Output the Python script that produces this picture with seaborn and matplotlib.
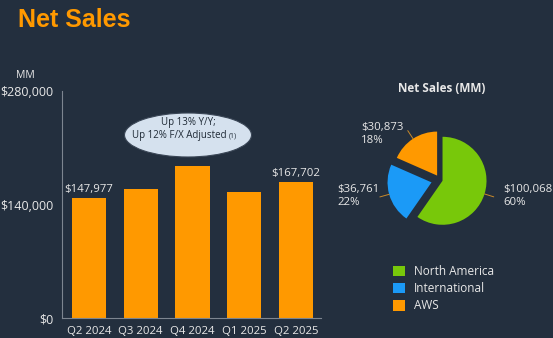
import matplotlib
matplotlib.use('Agg')
import matplotlib.pyplot as plt
import seaborn as sns
import numpy as np
import pandas as pd
from matplotlib.patches import Ellipse
from matplotlib.ticker import FuncFormatter

# ---- data ----
quarters = ['Q2 2024', 'Q3 2024', 'Q4 2024', 'Q1 2025', 'Q2 2025']
net_sales = [147977, 158877, 187792, 155667, 167702]
bar_labels = {0: '$147,977', 4: '$167,702'}
yticks = [0, 140000, 280000]
segments = ['North America', 'International', 'AWS']
segment_sales = [100068, 36761, 30873]
segment_labels = ['$100,068\n60%', '$36,761\n22%', '$30,873\n18%']
callout_line1 = 'Up 13% Y/Y;'
callout_line2 = 'Up 12% F/X Adjusted'
callout_note = '(1)'

# ---- style ----
BG = '#232F3E'
ORANGE = '#FF9900'
GREEN = '#78C80A'
BLUE = '#1B9AF7'
TXT = '#E8E8E8'
AXC = '#7D8590'
seg_colors = [GREEN, BLUE, ORANGE]

sns.set_theme(style='dark')
plt.rcParams['font.family'] = ['Open Sans', 'DejaVu Sans']

W, H = 553, 338
fig = plt.figure(figsize=(W / 100, H / 100), dpi=100, facecolor=BG)


def fx(x):
    return x / W


def fy(y):
    return 1 - y / H


# ---- bar chart ----
ax = fig.add_axes([62 / W, (H - 318) / H, 259 / W, 227 / H])
ax.set_facecolor(BG)
df = pd.DataFrame({'quarter': quarters, 'sales': net_sales})
sns.barplot(data=df, x='quarter', y='sales', color=ORANGE, saturation=1,
            width=0.66, linewidth=0, ax=ax)
ax.set_xlim(-0.52, 4.48)
ax.set_ylim(0, 280000)
ax.set_yticks(yticks)
ax.yaxis.set_major_formatter(FuncFormatter(lambda v, p: f'${v:,.0f}'))
ax.set_xlabel('')
ax.set_ylabel('')
ax.grid(False)
for s in ['top', 'right']:
    ax.spines[s].set_visible(False)
for s in ['left', 'bottom']:
    ax.spines[s].set_color(AXC)
    ax.spines[s].set_linewidth(0.8)
ax.tick_params(axis='both', colors=AXC, labelcolor=TXT, length=3, width=0.8)
ax.tick_params(axis='y', pad=3, labelsize=9)
ax.tick_params(axis='x', pad=2.5, labelsize=8.2)
for i, txt in bar_labels.items():
    ax.annotate(txt, (i, net_sales[i]), xytext=(0, 2), textcoords='offset points',
                ha='center', va='bottom', color=TXT, fontsize=8.2)

fig.text(fx(25), fy(75), 'MM', ha='center', va='center', color=TXT, fontsize=7.5)

# ---- callout ----
fig.add_artist(Ellipse((fx(188), fy(135)), 127 / W, 44 / H, transform=fig.transFigure,
                       facecolor='#D5E1EE', edgecolor='#3A4656', lw=0.8))
fig.text(fx(188), fy(122.5), callout_line1, ha='center', va='center',
         color='#1F2A36', fontsize=7)
fig.text(fx(227), fy(135.5), callout_line2, ha='right', va='center',
         color='#1F2A36', fontsize=7)
fig.text(fx(229), fy(136), callout_note, ha='left', va='center',
         color='#1F2A36', fontsize=5)

# ---- title ----
fig.text(fx(18), fy(27), 'Net Sales', ha='left', va='baseline', color=ORANGE,
         fontsize=18, fontweight='bold', family=['Liberation Sans', 'DejaVu Sans'])

# ---- pie ----
cx, cy, R = 440, 180, 44
half = 1.4 * R
axp = fig.add_axes([fx(cx - half), (H - cy - half) / H, 2 * half / W, 2 * half / H])
wedges, _ = axp.pie(segment_sales, colors=seg_colors, startangle=90,
                    counterclock=False, explode=[0.06, 0.2, 0.12],
                    wedgeprops=dict(linewidth=0))
axp.set_xlim(-1.4, 1.4)
axp.set_ylim(-1.4, 1.4)
axp.set_aspect('equal')
axp.axis('off')
for w in wedges:
    mid = np.deg2rad((w.theta1 + w.theta2) / 2)
    wx, wy = w.center
    axp.plot([wx + w.r * np.cos(mid), wx + 1.22 * w.r * np.cos(mid)],
             [wy + w.r * np.sin(mid), wy + 1.22 * w.r * np.sin(mid)],
             color='#C98A2A', lw=0.7, clip_on=False)

label_pos = [(503, 196), (337, 196), (361, 134)]
for (lx, ly), txt in zip(label_pos, segment_labels):
    fig.text(fx(lx), fy(ly), txt, ha='left', va='center', color=TXT,
             fontsize=8.2, linespacing=1.15)

fig.text(fx(442), fy(88), 'Net Sales (MM)', ha='center', va='center', color=TXT,
         fontsize=8.5, fontweight='bold')

fig.legend(wedges, segments, loc='upper left', bbox_to_anchor=(fx(393), fy(265)),
           frameon=False, handlelength=1.0, handleheight=1.0, handletextpad=0.8,
           labelspacing=0.35, fontsize=8.5, labelcolor=TXT, borderaxespad=0,
           borderpad=0)

fig.savefig('out.png', dpi=100, facecolor=BG)
